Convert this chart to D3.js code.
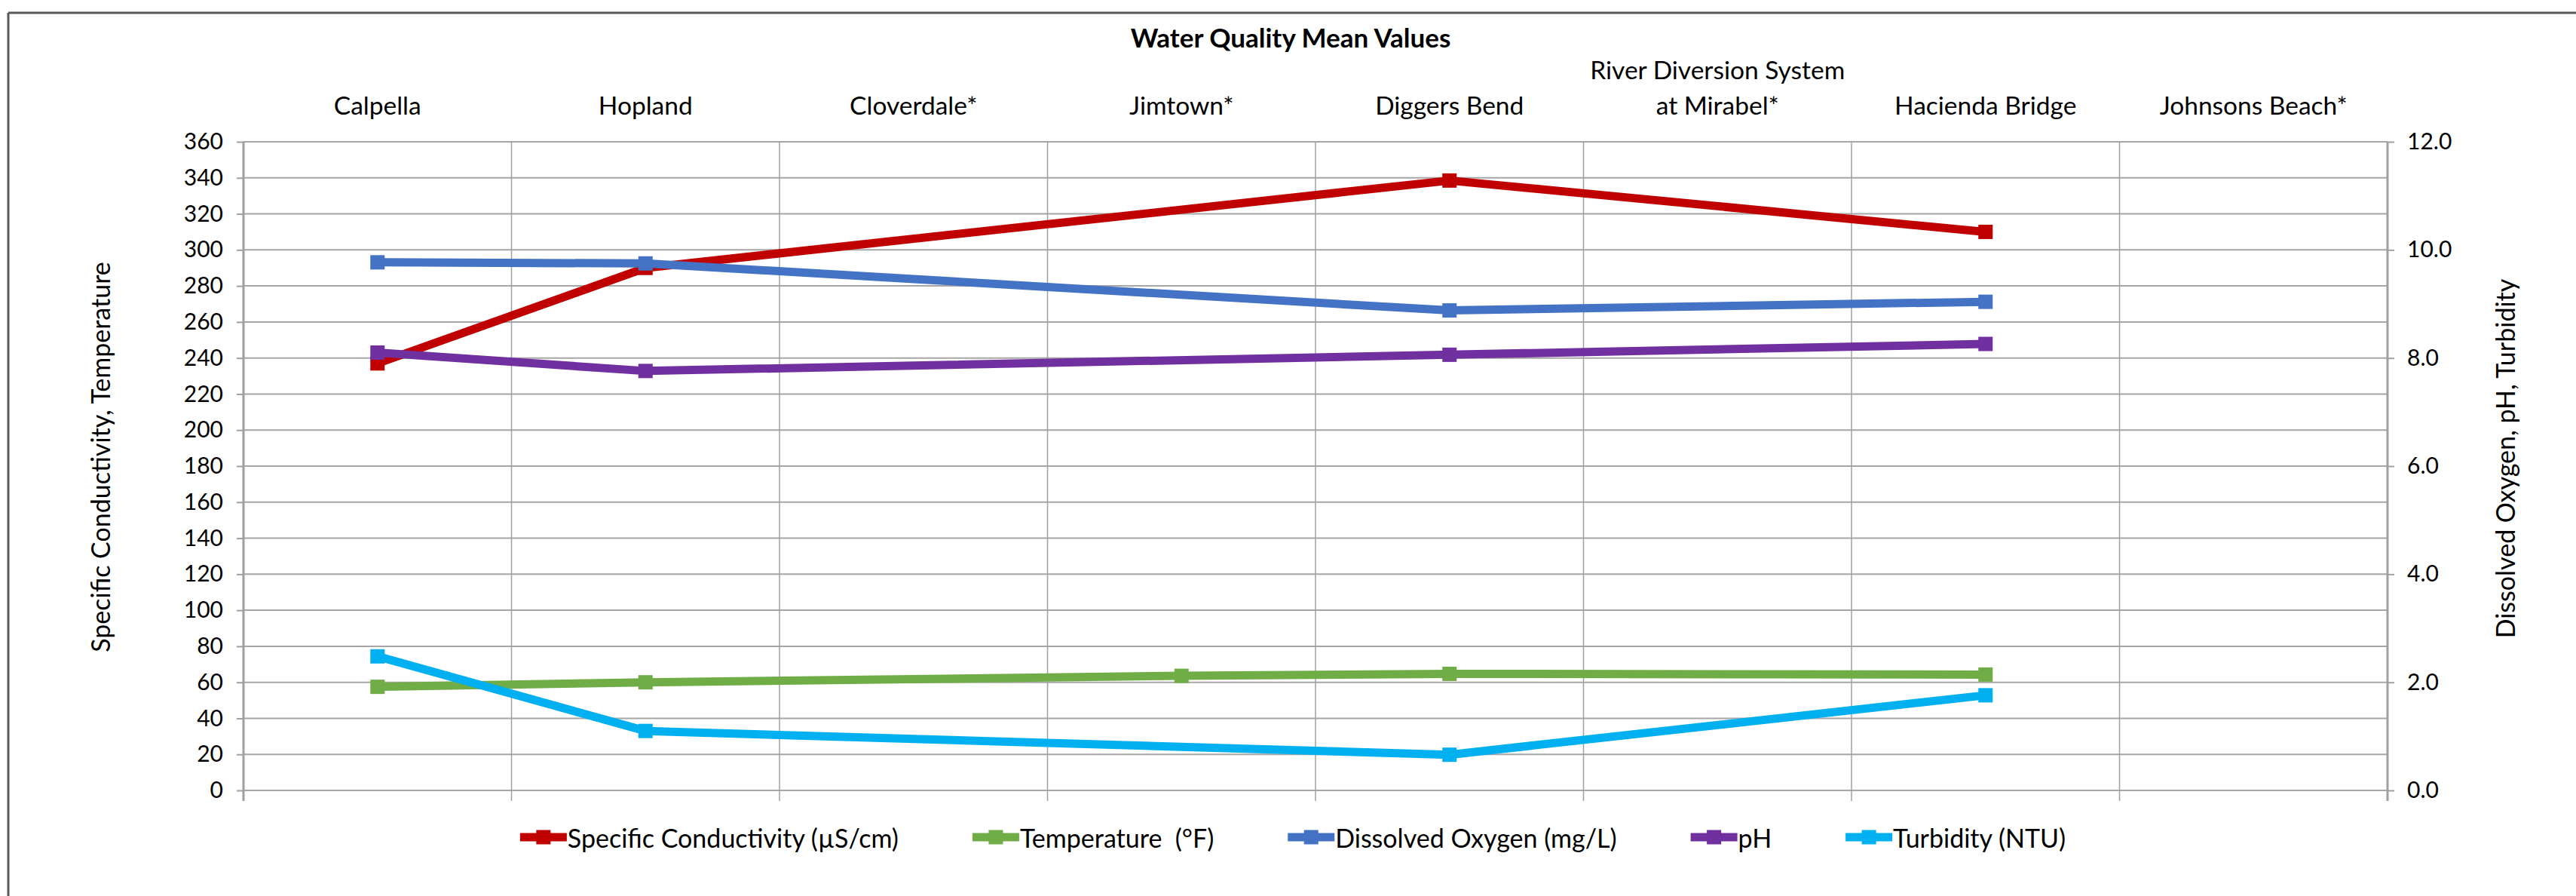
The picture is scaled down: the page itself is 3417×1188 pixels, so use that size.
<!DOCTYPE html>
<html>
<head>
<meta charset="utf-8">
<script src="https://cdn.jsdelivr.net/npm/d3@7"></script>
<style>
  html, body { margin: 0; padding: 0; background: #fff; }
  svg { display: block; }
  text { font-family: Lato, "Open Sans", sans-serif; fill: #000; }
</style>
</head>
<body>
<script>
// ---- data ----
const categories = ["Calpella", "Hopland", "Cloverdale*", "Jimtown*", "Diggers Bend",
  "River Diversion System\nat Mirabel*", "Hacienda Bridge", "Johnsons Beach*"];
const conductivity = [237, 290, null, null, 338.5, null, 310, null];
const temperature = [57.5, 60, null, 63.6, 64.7, null, 64.3, null];
const dissolvedOxygen = [9.77, 9.75, null, null, 8.88, null, 9.04, null];
const pH = [8.10, 7.76, null, null, 8.06, null, 8.26, null];
const turbidity = [2.48, 1.10, null, null, 0.66, null, 1.76, null];
const leftTicks = [0, 20, 40, 60, 80, 100, 120, 140, 160, 180, 200, 220, 240, 260, 280, 300, 320, 340, 360];
const rightTicks = [0, 2, 4, 6, 8, 10, 12];
const seriesNames = ["Specific Conductivity (µS/cm)", "Temperature  (°F)", "Dissolved Oxygen (mg/L)", "pH", "Turbidity (NTU)"];
const seriesColors = ["#C00000", "#70AD47", "#4472C4", "#7030A0", "#00B0F0"];
const seriesValues = [conductivity, temperature, dissolvedOxygen, pH, turbidity];
const seriesAxis = ["left", "left", "right", "right", "right"];
const chartTitle = "Water Quality Mean Values";
const leftTitle = "Specific Conductivity, Temperature";
const rightTitle = "Dissolved Oxygen, pH, Turbidity";

// ---- layout ----
const W = 3417, H = 1188;
const plot = { left: 323, right: 3167, top: 188, bottom: 1048 };
const gridColor = "#a6a6a6";
const tickFont = 30;

const svg = d3.select("body").append("svg").attr("width", W).attr("height", H);

// frame (top and left edges visible)
svg.append("line").attr("x1", 11).attr("x2", W).attr("y1", 17).attr("y2", 17)
  .attr("stroke", "#595959").attr("stroke-width", 3);
svg.append("line").attr("x1", 11).attr("x2", 11).attr("y1", 17).attr("y2", H)
  .attr("stroke", "#595959").attr("stroke-width", 3);

const x = d3.scaleBand().domain(categories).range([plot.left, plot.right]).padding(0);
const bw = x.bandwidth();
const yL = d3.scaleLinear().domain([0, 360]).range([plot.bottom, plot.top]);
const yR = d3.scaleLinear().domain([0, 12]).range([plot.bottom, plot.top]);

// horizontal gridlines
svg.append("g").selectAll("line").data(leftTicks).join("line")
  .attr("x1", plot.left).attr("x2", plot.right)
  .attr("y1", d => yL(d)).attr("y2", d => yL(d))
  .attr("stroke", gridColor).attr("stroke-width", 2);

// vertical gridlines at category boundaries
const bounds = categories.map(c => x(c)).slice(1);
svg.append("g").selectAll("line").data(bounds).join("line")
  .attr("x1", d => d).attr("x2", d => d)
  .attr("y1", plot.top).attr("y2", plot.bottom + 14)
  .attr("stroke", "#a0a0a0").attr("stroke-width", 1.5);

// axes
const axL = svg.append("g").attr("transform", `translate(${plot.left},0)`)
  .call(d3.axisLeft(yL).tickValues(leftTicks).tickSize(9).tickPadding(18).tickSizeOuter(0));
const axR = svg.append("g").attr("transform", `translate(${plot.right},0)`)
  .call(d3.axisRight(yR).tickValues(rightTicks).tickSize(9).tickPadding(17).tickSizeOuter(0)
    .tickFormat(d3.format(".1f")));
[axL, axR].forEach(a => {
  a.select(".domain").attr("stroke", "#a0a0a0").attr("stroke-width", 3)
    .attr("d", `M0,${plot.top}V${plot.bottom + 14}`);
  a.selectAll(".tick line").attr("stroke", "#a0a0a0").attr("stroke-width", 2);
  a.selectAll(".tick text").attr("font-size", tickFont).attr("font-family", "Lato, sans-serif").attr("fill", "#000");
});

// category labels at top
const catG = svg.append("g");
categories.forEach(c => {
  const lines = c.split("\n");
  const t = catG.append("text").attr("text-anchor", "middle").attr("font-size", 33.5)
    .attr("x", x(c) + bw / 2);
  lines.forEach((ln, i) => {
    t.append("tspan").attr("x", x(c) + bw / 2)
      .attr("y", 152 - (lines.length - 1 - i) * 47).text(ln);
  });
});

// title
svg.append("text").attr("x", 1712).attr("y", 63).attr("text-anchor", "middle")
  .attr("font-size", 35).attr("font-weight", "bold").text(chartTitle);

// axis titles
svg.append("text").attr("transform", "translate(132,606) rotate(-90)")
  .attr("text-anchor", "middle").attr("dominant-baseline", "central")
  .attr("font-size", 34).text(leftTitle);
svg.append("text").attr("transform", "translate(3322,608) rotate(-90)")
  .attr("text-anchor", "middle").attr("dominant-baseline", "central")
  .attr("font-size", 34).text(rightTitle);

// series
const cx = i => x(categories[i]) + bw / 2;
const msize = 19;
seriesValues.forEach((vals, s) => {
  const y = seriesAxis[s] === "left" ? yL : yR;
  const pts = vals.map((v, i) => ({ i, v })).filter(d => d.v !== null);
  const line = d3.line().x(d => cx(d.i)).y(d => y(d.v));
  const g = svg.append("g");
  g.append("path").datum(pts).attr("d", line).attr("fill", "none")
    .attr("stroke", seriesColors[s]).attr("stroke-width", 11)
    .attr("stroke-linejoin", "round");
  g.selectAll("rect").data(pts).join("rect")
    .attr("x", d => cx(d.i) - msize / 2).attr("y", d => y(d.v) - msize / 2)
    .attr("width", msize).attr("height", msize).attr("fill", seriesColors[s]);
});

// legend
const legY = 1110;
const legG = svg.append("g");
let cursor = 0;
seriesNames.forEach((name, s) => {
  const ig = legG.append("g");
  ig.append("line").attr("x1", 0).attr("x2", 62).attr("y1", 0).attr("y2", 0)
    .attr("stroke", seriesColors[s]).attr("stroke-width", 11);
  ig.append("rect").attr("x", 31 - msize / 2).attr("y", -msize / 2).attr("width", msize).attr("height", msize)
    .attr("fill", seriesColors[s]);
  const t = ig.append("text").attr("x", 63).attr("y", 0).attr("dominant-baseline", "central")
    .attr("font-size", 34).style("white-space", "pre").text(name);
  const w = 63 + t.node().getComputedTextLength();
  ig.attr("transform", `translate(${cursor},${legY})`);
  cursor += w + 98;
});
const totalW = cursor - 98;
legG.attr("transform", `translate(${1715 - totalW / 2},0)`);
</script>
</body>
</html>
